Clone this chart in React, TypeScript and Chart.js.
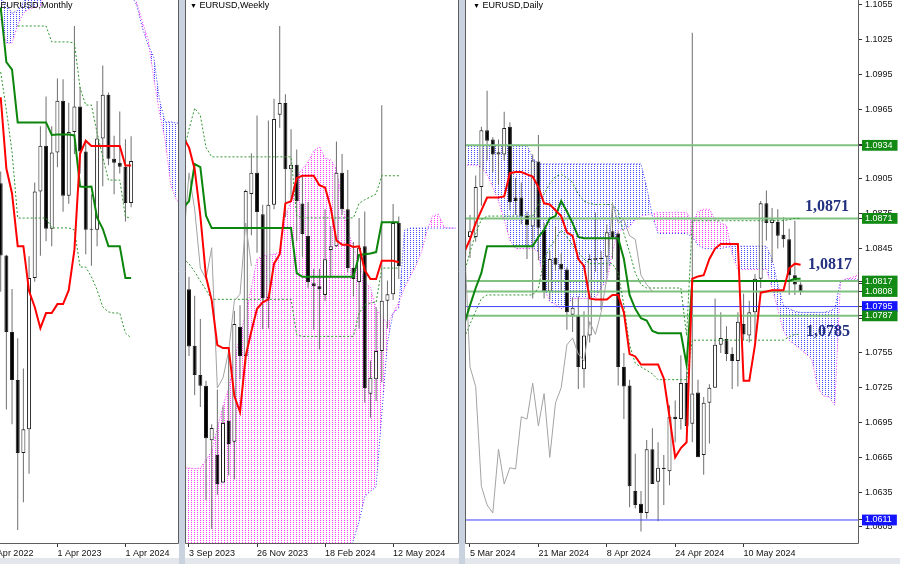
import React, { useEffect, useRef } from 'react';
import { Chart, registerables } from 'chart.js';
Chart.register(...registerables);

const FONT = "'Liberation Sans', 'DejaVu Sans', Arial, sans-serif";

// ---------------- Monthly (index 0 = Jun 2022 ... 23 = May 2024) ----------------
const mOpen = [1.0733, 1.0484, 1.0220, 1.0054, 0.9802, 0.9884, 1.0406, 1.0705, 1.0863, 1.0576, 1.0839, 1.1018, 1.0690, 1.0910, 1.0998, 1.0843, 1.0573, 1.0573, 1.0888, 1.1039, 1.0818, 1.0804, 1.0790, 1.0665];
const mHigh = [1.0774, 1.0486, 1.0368, 1.0198, 1.0094, 1.0481, 1.0736, 1.0930, 1.1033, 1.0930, 1.1095, 1.1092, 1.1011, 1.1276, 1.1065, 1.0882, 1.0695, 1.1017, 1.1140, 1.1046, 1.0897, 1.0981, 1.0885, 1.0895];
const mLow = [1.0359, 0.9952, 0.9901, 0.9536, 0.9632, 0.9730, 1.0393, 1.0483, 1.0533, 1.0516, 1.0788, 1.0635, 1.0662, 1.0834, 1.0766, 1.0488, 1.0448, 1.0516, 1.0723, 1.0795, 1.0695, 1.0767, 1.0601, 1.0650];
const mClose = [1.0484, 1.0220, 1.0054, 0.9802, 0.9884, 1.0406, 1.0705, 1.0863, 1.0576, 1.0839, 1.1018, 1.0690, 1.0910, 1.0998, 1.0843, 1.0573, 1.0573, 1.0888, 1.1039, 1.0818, 1.0804, 1.0790, 1.0665, 1.0810];
const mTenkan = [1.1030, 1.0784, 1.0698, 1.0516, 1.0516, 1.0361, 1.0306, 1.0233, 1.0285, 1.0285, 1.0316, 1.0316, 1.0364, 1.0503, 1.0835, 1.0880, 1.0862, 1.0862, 1.0862, 1.0862, 1.0862, 1.0862, 1.0794, 1.0794];
const mKijun = [1.1340, 1.1151, 1.1125, 1.0943, 1.0943, 1.0943, 1.0943, 1.0943, 1.0943, 1.0900, 1.0901, 1.0901, 1.0901, 1.0898, 1.0722, 1.0720, 1.0722, 1.0614, 1.0576, 1.0516, 1.0516, 1.0516, 1.0406, 1.0406];
const mDotUp = [null, null, null, 1.1276, 1.1276, 1.1276, 1.1276, 1.1276, 1.1276, 1.1221, 1.1221, 1.1221, 1.1221, 1.1217, 1.1062, 1.1003, 1.1003, 1.0907, 1.0824, 1.0744, 1.0744, 1.0744, 1.0617, 1.0613];
const mDotLo = [1.1117, 1.0986, 1.0841, 1.0613, 1.0613, 1.0613, 1.0613, 1.0613, 1.0613, 1.0579, 1.0579, 1.0579, 1.0579, 1.0572, 1.0444, 1.0444, 1.0410, 1.0365, 1.0306, 1.0289, 1.0285, 1.0285, 1.0216, 1.0199];
const mSpanBlue = [1.1370, 1.1350, 1.1320, 1.1330, 1.1360, 1.1380, 1.1400, 1.1420, 1.1480, 1.1480, 1.1480, 1.1480, 1.1480, 1.1480, 1.1480, 1.1480, 1.1480, 1.1480, 1.1480, 1.1480, 1.1480, 1.1480, 1.1480, 1.1383, 1.1348, 1.1269, 1.1210, 1.1169, 1.1021, 1.0945, 1.0945, 1.0941, 1.0941];
const mSpanMagenta = [1.1300, 1.1217, 1.1217, 1.1280, 1.1320, 1.1335, 1.1340, 1.1345, 1.1420, 1.1420, 1.1420, 1.1420, 1.1420, 1.1420, 1.1420, 1.1420, 1.1420, 1.1420, 1.1420, 1.1420, 1.1420, 1.1420, 1.1420, 1.1400, 1.1355, 1.1290, 1.1228, 1.1096, 1.0979, 1.0882, 1.0727, 1.0675, 1.0658];
const mTickAt = [-2, 10, 22];
const mTickText = ['1 Apr 2022', '1 Apr 2023', '1 Apr 2024'];

// ---------------- Weekly (index 0 = 27 Aug 2023 ... 38 = 19 May 2024) ----------------
const wOpen = [1.0796, 1.0778, 1.0700, 1.0660, 1.0645, 1.0570, 1.0550, 1.0512, 1.0597, 1.0568, 1.0726, 1.0686, 1.0909, 1.0938, 1.0881, 1.0766, 1.0894, 1.1018, 1.1034, 1.0943, 1.0949, 1.0896, 1.0851, 1.0786, 1.0782, 1.0770, 1.0832, 1.0837, 1.0938, 1.0888, 1.0807, 1.0788, 1.0837, 1.0634, 1.0654, 1.0693, 1.0762, 1.0771, 1.0869];
const wHigh = [1.0945, 1.0795, 1.0769, 1.0737, 1.0652, 1.0592, 1.0640, 1.0617, 1.0695, 1.0748, 1.0756, 1.0915, 1.0965, 1.1017, 1.0894, 1.1010, 1.1040, 1.1140, 1.1046, 1.0998, 1.0970, 1.0933, 1.0898, 1.0806, 1.0806, 1.0888, 1.0865, 1.0981, 1.0964, 1.0942, 1.0843, 1.0876, 1.0885, 1.0680, 1.0753, 1.1031, 1.0790, 1.0895, 1.0878];
const wLow = [1.0766, 1.0686, 1.0632, 1.0616, 1.0488, 1.0448, 1.0495, 1.0511, 1.0522, 1.0516, 1.0654, 1.0674, 1.0852, 1.0828, 1.0723, 1.0724, 1.0888, 1.1000, 1.0877, 1.0900, 1.0844, 1.0822, 1.0780, 1.0722, 1.0695, 1.0762, 1.0796, 1.0836, 1.0880, 1.0801, 1.0768, 1.0724, 1.0622, 1.0601, 1.0624, 1.0650, 1.0724, 1.0763, 1.0792];
const wClose = [1.0775, 1.0699, 1.0660, 1.0645, 1.0573, 1.0587, 1.0510, 1.0594, 1.0565, 1.0730, 1.0686, 1.0913, 1.0938, 1.0884, 1.0766, 1.0894, 1.1012, 1.1034, 1.0943, 1.0949, 1.0899, 1.0854, 1.0788, 1.0782, 1.0778, 1.0819, 1.0837, 1.0938, 1.0888, 1.0807, 1.0792, 1.0835, 1.0642, 1.0656, 1.0693, 1.0762, 1.0771, 1.0869, 1.0810];
const wTenkan = [1.0987, 1.0973, 1.0943, 1.0879, 1.0795, 1.0763, 1.0701, 1.0697, 1.0697, 1.0631, 1.0609, 1.0686, 1.0720, 1.0751, 1.0760, 1.0764, 1.0813, 1.0826, 1.0896, 1.0899, 1.0931, 1.0934, 1.0934, 1.0934, 1.0921, 1.0918, 1.0890, 1.0845, 1.0839, 1.0839, 1.0836, 1.0837, 1.0804, 1.0792, 1.0792, 1.0817, 1.0817, 1.0817, 1.0815];
const wKijun = [1.0890, 1.0899, 1.0950, 1.0946, 1.0879, 1.0862, 1.0862, 1.0862, 1.0862, 1.0862, 1.0862, 1.0862, 1.0862, 1.0862, 1.0862, 1.0862, 1.0862, 1.0862, 1.0862, 1.0862, 1.0800, 1.0795, 1.0795, 1.0795, 1.0795, 1.0795, 1.0795, 1.0795, 1.0795, 1.0795, 1.0795, 1.0825, 1.0826, 1.0827, 1.0829, 1.0870, 1.0870, 1.0870, 1.0870];
const wChikou = [1.0837, 1.0938, 1.0888, 1.0807, 1.0792, 1.0835, 1.0642, 1.0656, 1.0693, 1.0762, 1.0771, 1.0869, 1.0810];
const wDotUp = [1.0965, 1.0998, 1.1027, 1.1017, 1.0973, 1.0960, 1.0960, 1.0960, 1.0960, 1.0960, 1.0960, 1.0960, 1.0960, 1.0960, 1.0960, 1.0960, 1.0960, 1.0960, 1.0960, 1.0960, 1.0879, 1.0876, 1.0876, 1.0876, 1.0876, 1.0876, 1.0876, 1.0876, 1.0876, 1.0876, 1.0876, 1.0896, 1.0901, 1.0905, 1.0909, 1.0934, 1.0934, 1.0934, 1.0934];
const wDotLo = [1.0820, 1.0813, 1.0802, 1.0789, 1.0777, 1.0764, 1.0764, 1.0764, 1.0764, 1.0764, 1.0764, 1.0764, 1.0764, 1.0764, 1.0764, 1.0764, 1.0764, 1.0764, 1.0764, 1.0764, 1.0715, 1.0713, 1.0713, 1.0713, 1.0713, 1.0713, 1.0713, 1.0713, 1.0713, 1.0713, 1.0713, 1.0745, 1.0756, 1.0759, 1.0760, 1.0807, 1.0807, 1.0807, 1.0807];
const wSpanMagenta = [1.0532, 1.0532, 1.0531, 1.0532, 1.0543, 1.0555, 1.0587, 1.0617, 1.0642, 1.0681, 1.0714, 1.0745, 1.0780, 1.0819, 1.0824, 1.0825, 1.0826, 1.0829, 1.0879, 1.0899, 1.0934, 1.0943, 1.0953, 1.0968, 1.0974, 1.0958, 1.0956, 1.0943, 1.0899, 1.0859, 1.0835, 1.0814, 1.0788, 1.0780, 1.0751, 1.0740, 1.0730, 1.0745, 1.0760, 1.0780, 1.0795, 1.0810, 1.0829, 1.0859, 1.0879, 1.0881, 1.0863, 1.0862, 1.0862];
const wSpanBlue = [1.0316, 1.0316, 1.0316, 1.0316, 1.0316, 1.0316, 1.0316, 1.0316, 1.0316, 1.0316, 1.0316, 1.0316, 1.0316, 1.0316, 1.0316, 1.0316, 1.0316, 1.0316, 1.0316, 1.0316, 1.0316, 1.0316, 1.0316, 1.0316, 1.0316, 1.0316, 1.0360, 1.0380, 1.0400, 1.0415, 1.0433, 1.0458, 1.0493, 1.0500, 1.0506, 1.0606, 1.0705, 1.0745, 1.0752, 1.0859, 1.0862, 1.0862, 1.0862, 1.0862, 1.0862, 1.0862, 1.0862, 1.0862, 1.0862];
const wTickAt = [1, 13, 25, 37];
const wTickText = ['3 Sep 2023', '26 Nov 2023', '18 Feb 2024', '12 May 2024'];

// ---------------- Daily (index 0 = 4 Mar 2024 ... 59 = 24 May 2024) ----------------
const dOpen = [1.0838, 1.0855, 1.0855, 1.0898, 1.0947, 1.0939, 1.0926, 1.0926, 1.0950, 1.0889, 1.0889, 1.0873, 1.0864, 1.0920, 1.0861, 1.0808, 1.0837, 1.0832, 1.0827, 1.0788, 1.0788, 1.0741, 1.0770, 1.0835, 1.0837, 1.0838, 1.0860, 1.0858, 1.0743, 1.0727, 1.0636, 1.0625, 1.0617, 1.0672, 1.0644, 1.0656, 1.0653, 1.0700, 1.0698, 1.0729, 1.0694, 1.0721, 1.0667, 1.0712, 1.0725, 1.0762, 1.0767, 1.0754, 1.0748, 1.0780, 1.0770, 1.0790, 1.0819, 1.0884, 1.0867, 1.0868, 1.0857, 1.0853, 1.0822, 1.0814];
const dHigh = [1.0867, 1.0874, 1.0908, 1.0950, 1.0981, 1.0941, 1.0939, 1.0963, 1.0954, 1.0906, 1.0902, 1.0877, 1.0926, 1.0943, 1.0867, 1.0843, 1.0864, 1.0841, 1.0829, 1.0803, 1.0804, 1.0791, 1.0840, 1.0876, 1.0843, 1.0866, 1.0885, 1.0860, 1.0755, 1.0732, 1.0668, 1.0636, 1.0680, 1.0690, 1.0678, 1.0667, 1.0710, 1.0714, 1.0753, 1.0739, 1.1031, 1.0732, 1.0717, 1.0728, 1.0802, 1.0790, 1.0778, 1.0760, 1.0790, 1.0806, 1.0800, 1.0823, 1.0886, 1.0895, 1.0880, 1.0879, 1.0872, 1.0862, 1.0869, 1.0816];
const dLow = [1.0831, 1.0837, 1.0851, 1.0882, 1.0921, 1.0911, 1.0900, 1.0921, 1.0878, 1.0874, 1.0866, 1.0836, 1.0802, 1.0835, 1.0802, 1.0801, 1.0826, 1.0808, 1.0775, 1.0773, 1.0724, 1.0725, 1.0764, 1.0825, 1.0792, 1.0824, 1.0836, 1.0727, 1.0698, 1.0622, 1.0621, 1.0601, 1.0612, 1.0643, 1.0610, 1.0624, 1.0641, 1.0678, 1.0689, 1.0689, 1.0678, 1.0665, 1.0650, 1.0677, 1.0725, 1.0755, 1.0748, 1.0724, 1.0726, 1.0766, 1.0764, 1.0767, 1.0811, 1.0852, 1.0833, 1.0845, 1.0846, 1.0805, 1.0805, 1.0805];
const dClose = [1.0855, 1.0860, 1.0898, 1.0947, 1.0938, 1.0926, 1.0928, 1.0949, 1.0885, 1.0886, 1.0873, 1.0865, 1.0921, 1.0863, 1.0808, 1.0836, 1.0831, 1.0827, 1.0790, 1.0794, 1.0743, 1.0770, 1.0836, 1.0837, 1.0836, 1.0859, 1.0855, 1.0743, 1.0726, 1.0640, 1.0624, 1.0617, 1.0672, 1.0642, 1.0656, 1.0655, 1.0700, 1.0698, 1.0729, 1.0692, 1.0720, 1.0665, 1.0712, 1.0725, 1.0762, 1.0768, 1.0754, 1.0748, 1.0782, 1.0771, 1.0790, 1.0819, 1.0884, 1.0867, 1.0870, 1.0856, 1.0853, 1.0822, 1.0814, 1.0808];
const dTenkan = [1.0842, 1.0853, 1.0867, 1.0878, 1.0889, 1.0889, 1.0889, 1.0890, 1.0910, 1.0911, 1.0911, 1.0909, 1.0907, 1.0898, 1.0884, 1.0883, 1.0878, 1.0873, 1.0859, 1.0856, 1.0836, 1.0830, 1.0802, 1.0801, 1.0801, 1.0801, 1.0805, 1.0805, 1.0790, 1.0754, 1.0752, 1.0745, 1.0745, 1.0745, 1.0745, 1.0733, 1.0700, 1.0665, 1.0673, 1.0678, 1.0819, 1.0821, 1.0822, 1.0836, 1.0845, 1.0849, 1.0849, 1.0849, 1.0849, 1.0731, 1.0731, 1.0762, 1.0807, 1.0808, 1.0809, 1.0809, 1.0809, 1.0828, 1.0832, 1.0831];
const dKijun = [1.0780, 1.0796, 1.0811, 1.0824, 1.0847, 1.0847, 1.0847, 1.0847, 1.0847, 1.0847, 1.0847, 1.0847, 1.0847, 1.0855, 1.0861, 1.0871, 1.0873, 1.0886, 1.0877, 1.0867, 1.0855, 1.0854, 1.0854, 1.0854, 1.0854, 1.0854, 1.0854, 1.0854, 1.0836, 1.0805, 1.0793, 1.0785, 1.0783, 1.0774, 1.0772, 1.0772, 1.0772, 1.0772, 1.0772, 1.0745, 1.0817, 1.0817, 1.0817, 1.0817, 1.0817, 1.0817, 1.0817, 1.0817, 1.0817, 1.0817, 1.0817, 1.0817, 1.0817, 1.0817, 1.0817, 1.0817, 1.0817, 1.0817, 1.0819, 1.0819];
const dChikou = [1.0855, 1.0743, 1.0726, 1.0640, 1.0624, 1.0617, 1.0672, 1.0642, 1.0656, 1.0655, 1.0700, 1.0698, 1.0729, 1.0692, 1.0720, 1.0665, 1.0712, 1.0725, 1.0762, 1.0768, 1.0754, 1.0748, 1.0782, 1.0771, 1.0790, 1.0819, 1.0884, 1.0867, 1.0870, 1.0856, 1.0853, 1.0822, 1.0814, 1.0808];
const dDotUp = [1.0824, 1.0842, 1.0858, 1.0870, 1.0873, 1.0873, 1.0873, 1.0873, 1.0873, 1.0873, 1.0873, 1.0873, 1.0873, 1.0883, 1.0892, 1.0901, 1.0907, 1.0909, 1.0906, 1.0902, 1.0892, 1.0886, 1.0884, 1.0883, 1.0883, 1.0883, 1.0883, 1.0877, 1.0858, 1.0842, 1.0824, 1.0814, 1.0811, 1.0811, 1.0811, 1.0811, 1.0811, 1.0811, 1.0811, 1.0770, 1.0869, 1.0869, 1.0869, 1.0869, 1.0869, 1.0869, 1.0869, 1.0869, 1.0869, 1.0869, 1.0869, 1.0869, 1.0869, 1.0869, 1.0869, 1.0869, 1.0869, 1.0870, 1.0871, 1.0871];
const dDotLo = [1.0768, 1.0780, 1.0791, 1.0802, 1.0805, 1.0805, 1.0805, 1.0805, 1.0805, 1.0805, 1.0805, 1.0805, 1.0805, 1.0811, 1.0836, 1.0846, 1.0853, 1.0861, 1.0855, 1.0848, 1.0842, 1.0836, 1.0832, 1.0832, 1.0832, 1.0832, 1.0832, 1.0824, 1.0796, 1.0762, 1.0746, 1.0743, 1.0740, 1.0737, 1.0732, 1.0732, 1.0732, 1.0732, 1.0732, 1.0732, 1.0766, 1.0766, 1.0766, 1.0766, 1.0766, 1.0766, 1.0766, 1.0766, 1.0766, 1.0766, 1.0766, 1.0766, 1.0766, 1.0766, 1.0766, 1.0766, 1.0766, 1.0769, 1.0771, 1.0771];
const dSpanBlue = [1.0934, 1.0934, 1.0934, 1.0934, 1.0934, 1.0934, 1.0934, 1.0934, 1.0934, 1.0934, 1.0934, 1.0934, 1.0923, 1.0918, 1.0918, 1.0918, 1.0918, 1.0918, 1.0918, 1.0918, 1.0918, 1.0918, 1.0918, 1.0918, 1.0918, 1.0918, 1.0918, 1.0918, 1.0918, 1.0918, 1.0918, 1.0918, 1.0898, 1.0873, 1.0858, 1.0858, 1.0858, 1.0858, 1.0858, 1.0858, 1.0855, 1.0848, 1.0845, 1.0845, 1.0845, 1.0845, 1.0846, 1.0847, 1.0847, 1.0847, 1.0847, 1.0847, 1.0847, 1.0847, 1.0836, 1.0814, 1.0796, 1.0793, 1.0791, 1.0790, 1.0790, 1.0790, 1.0790, 1.0790, 1.0791, 1.0793, 1.0817, 1.0818, 1.0818, 1.0818, 1.0818];
const dSpanMagenta = [1.0917, 1.0917, 1.0917, 1.0915, 1.0909, 1.0898, 1.0886, 1.0870, 1.0852, 1.0845, 1.0845, 1.0845, 1.0845, 1.0842, 1.0811, 1.0799, 1.0797, 1.0793, 1.0796, 1.0802, 1.0802, 1.0802, 1.0802, 1.0802, 1.0811, 1.0817, 1.0842, 1.0861, 1.0861, 1.0864, 1.0870, 1.0873, 1.0874, 1.0875, 1.0876, 1.0876, 1.0876, 1.0876, 1.0876, 1.0876, 1.0867, 1.0877, 1.0879, 1.0879, 1.0870, 1.0867, 1.0865, 1.0840, 1.0827, 1.0827, 1.0827, 1.0827, 1.0827, 1.0827, 1.0811, 1.0793, 1.0774, 1.0766, 1.0762, 1.0758, 1.0754, 1.0749, 1.0725, 1.0718, 1.0717, 1.0710, 1.0817, 1.0819, 1.0820, 1.0822, 1.0822];
const dTickAt = [1, 13, 25, 37, 49];
const dTickText = ['5 Mar 2024', '21 Mar 2024', '8 Apr 2024', '24 Apr 2024', '10 May 2024'];
const dPriceTicks = [1.1055, 1.1025, 1.0995, 1.0965, 1.0935, 1.0905, 1.0875, 1.0845, 1.0815, 1.0785, 1.0755, 1.0725, 1.0695, 1.0665, 1.0635, 1.0605];
const dLevels = [1.0934, 1.0871, 1.0817, 1.0808, 1.0795, 1.0787, 1.0611];
const dLevelKind = ['green', 'green', 'green', 'green', 'blue', 'green', 'blue'];
const dNotes = ['1,0871', '1,0817', '1,0785'];

// ---------------- drawing ----------------
const LEVEL_LINE: Record<string, string> = { green: '#7fc17f', blue: '#3f3fff' };
const LEVEL_LABEL: Record<string, string> = { green: '#138a13', blue: '#1414ff' };

function hatch(color: string): CanvasPattern | string {
  const c = document.createElement('canvas');
  c.width = 3;
  c.height = 2;
  const g = c.getContext('2d');
  if (!g) return color;
  g.fillStyle = color;
  g.fillRect(0, 0, 1, 1);
  return g.createPattern(c, 'repeat') || color;
}

const framePlugin = {
  id: 'mtFrame',
  afterDraw(chart: any) {
    const { ctx, chartArea: a } = chart;
    ctx.save();
    ctx.strokeStyle = '#5e5e5e';
    ctx.lineWidth = 1;
    ctx.beginPath();
    ctx.moveTo(a.left + 0.5, a.top);
    ctx.lineTo(a.left + 0.5, a.bottom - 0.5);
    ctx.lineTo(a.right - 0.5, a.bottom - 0.5);
    ctx.lineTo(a.right - 0.5, a.top);
    ctx.stroke();
    ctx.restore();
  },
};

type Spec = {
  xMin: number; xMax: number; yMin: number; yMax: number;
  open: number[]; high: number[]; low: number[]; close: number[];
  tenkan: number[]; kijun: number[]; chikou: number[] | null;
  dotUp: (number | null)[]; dotLo: number[];
  spanBlue: number[]; spanMagenta: number[];
  tickAt: number[]; tickText: string[];
  priceAxis: boolean;
};

const xy = (arr: (number | null)[]) => arr.map((v, i) => ({ x: i, y: v }));

function makeChart(canvas: HTMLCanvasElement, s: Spec) {
  const line = (data: any, color: string, width: number, order: number, dash: number[] = []) => ({
    type: 'line', data, borderColor: color, borderWidth: width, borderDash: dash,
    pointRadius: 0, tension: 0, fill: false, order, spanGaps: false,
  });
  const datasets: any[] = [];
  datasets.push(line(xy(s.tenkan), '#ff0000', 2, 0));
  datasets.push(line(xy(s.kijun), '#0b850b', 2, 0));
  if (s.chikou) datasets.push(line(xy(s.chikou), '#a3a3a3', 1, 1));
  datasets.push(line(xy(s.dotUp), '#2f962f', 1, 1, [2, 2]));
  datasets.push(line(xy(s.dotLo), '#2f962f', 1, 1, [2, 2]));
  if (s.priceAxis) {
    dLevels.forEach((v, i) => {
      const kind = dLevelKind[i];
      datasets.push(line([{ x: s.xMin, y: v }, { x: s.xMax, y: v }], LEVEL_LINE[kind], kind === 'green' ? 2 : 1, 2));
    });
  }
  datasets.push({
    type: 'bar',
    data: s.open.map((o, i) => ({ x: i, y: [o, s.close[i]] })),
    barThickness: 4, grouped: false, minBarLength: 1, inflateAmount: 0,
    borderSkipped: false, borderWidth: 1, borderColor: '#1e1e1e',
    backgroundColor: (c: any) => (s.close[c.dataIndex] >= s.open[c.dataIndex] ? '#ffffff' : '#000000'),
    order: 3,
  });
  datasets.push({
    type: 'bar',
    data: s.low.map((l, i) => ({ x: i, y: [l, s.high[i]] })),
    barThickness: 1, grouped: false, inflateAmount: 0, borderWidth: 0,
    backgroundColor: '#6e6e6e', order: 4,
  });
  const magIndex = datasets.length + 1;
  datasets.push({
    ...line(xy(s.spanBlue), '#3434ff', 1, 8, [1, 2]),
    fill: { target: magIndex, above: hatch('#4a4aff'), below: hatch('#ff3cff') },
  });
  datasets.push(line(xy(s.spanMagenta), '#ff2cff', 1, 9, [1, 2]));

  const tickFont = { family: FONT, size: 9 };
  const levelSet = new Map(dLevels.map((v, i) => [v, dLevelKind[i]]));

  const scales: any = {
    x: {
      type: 'linear', min: s.xMin, max: s.xMax, offset: false, bounds: 'data',
      grid: { display: true, drawOnChartArea: false, drawTicks: true, tickLength: 3, tickColor: '#333', color: '#333', offset: false },
      border: { display: false },
      ticks: {
        align: 'start', padding: 1, maxRotation: 0, autoSkip: false, font: tickFont, color: '#111',
        callback: (v: number) => {
          const k = s.tickAt.indexOf(v);
          return k >= 0 ? s.tickText[k] : '';
        },
      },
      afterBuildTicks: (sc: any) => { sc.ticks = s.tickAt.map((v) => ({ value: v })); },
      afterFit: (sc: any) => { sc.height = 14; sc.paddingLeft = 0; sc.paddingRight = 0; },
    },
    y: {
      type: 'linear', min: s.yMin, max: s.yMax, bounds: 'data', display: s.priceAxis, position: 'right',
      grid: { display: true, drawOnChartArea: false, drawTicks: true, tickLength: 3, tickColor: '#333', color: '#333' },
      border: { display: false },
      ticks: {
        autoSkip: false, font: tickFont, padding: 3,
        color: (c: any) => (levelSet.has(c.tick && c.tick.value) ? '#ffffff' : '#111'),
        showLabelBackdrop: (c: any) => levelSet.has(c.tick && c.tick.value),
        backdropColor: (c: any) => LEVEL_LABEL[levelSet.get(c.tick && c.tick.value) || 'green'],
        backdropPadding: { top: 0, bottom: 0, left: 3, right: 5 },
        callback: (v: number) => v.toFixed(4),
      },
      afterBuildTicks: (sc: any) => { sc.ticks = [...dPriceTicks, ...dLevels].map((v) => ({ value: v })); },
      afterFit: (sc: any) => {
        sc.width = s.priceAxis ? 41 : 0;
        sc.paddingTop = 0;
        sc.paddingBottom = 0;
      },
    },
  };

  return new Chart(canvas, {
    type: 'bar',
    data: { datasets },
    options: {
      responsive: false, animation: false, devicePixelRatio: 1, events: [],
      layout: { padding: 0 },
      plugins: { legend: { display: false }, tooltip: { enabled: false }, title: { display: false } },
      scales,
    } as any,
    plugins: [framePlugin],
  } as any);
}

const monthly: Spec = {
  xMin: -3.651, xMax: 31.446, yMin: 0.94879, yMax: 1.13657,
  open: mOpen, high: mHigh, low: mLow, close: mClose, tenkan: mTenkan, kijun: mKijun, chikou: null,
  dotUp: mDotUp, dotLo: mDotLo, spanBlue: mSpanBlue, spanMagenta: mSpanMagenta,
  tickAt: mTickAt, tickText: mTickText, priceAxis: false,
};
const weekly: Spec = {
  xMin: 0.295, xMax: 48.62, yMin: 1.04274, yMax: 1.11758,
  open: wOpen, high: wHigh, low: wLow, close: wClose, tenkan: wTenkan, kijun: wKijun, chikou: wChikou,
  dotUp: wDotUp, dotLo: wDotLo, spanBlue: wSpanBlue, spanMagenta: wSpanMagenta,
  tickAt: wTickAt, tickText: wTickText, priceAxis: false,
};
const daily: Spec = {
  xMin: 0.123, xMax: 69.25, yMin: 1.05903, yMax: 1.10593,
  open: dOpen, high: dHigh, low: dLow, close: dClose, tenkan: dTenkan, kijun: dKijun, chikou: dChikou,
  dotUp: dDotUp, dotLo: dDotLo, spanBlue: dSpanBlue, spanMagenta: dSpanMagenta,
  tickAt: dTickAt, tickText: dTickText, priceAxis: true,
};

const titleStyle: React.CSSProperties = {
  position: 'absolute', top: 0, fontSize: 9, lineHeight: '11px', color: '#000', fontFamily: FONT, whiteSpace: 'nowrap',
};
const noteStyle: React.CSSProperties = {
  position: 'absolute', fontFamily: "'Liberation Serif', 'DejaVu Serif', serif", fontWeight: 700,
  fontSize: 16, lineHeight: '16px', color: '#23317f', whiteSpace: 'nowrap',
};

export default function App() {
  const mRef = useRef<HTMLCanvasElement>(null);
  const wRef = useRef<HTMLCanvasElement>(null);
  const dRef = useRef<HTMLCanvasElement>(null);

  useEffect(() => {
    Chart.defaults.font.family = FONT;
    const charts = [
      makeChart(mRef.current as HTMLCanvasElement, monthly),
      makeChart(wRef.current as HTMLCanvasElement, weekly),
      makeChart(dRef.current as HTMLCanvasElement, daily),
    ];
    return () => charts.forEach((c) => c.destroy());
  }, []);

  const cv = (left: number, width: number): React.CSSProperties => ({
    position: 'absolute', left, top: 0, width, height: 558, background: '#ffffff', display: 'block',
  });

  return (
    <div style={{ position: 'fixed', left: 0, top: 0, width: 900, height: 564, overflow: 'hidden', background: '#e3e6ea' }}>
      <div style={{ position: 'absolute', left: 179, top: 0, width: 6, height: 564, background: '#c8d3df' }} />
      <div style={{ position: 'absolute', left: 459, top: 0, width: 6, height: 564, background: '#c8d3df' }} />
      <canvas ref={mRef} width={199} height={558} style={cv(-20, 199)} />
      <canvas ref={wRef} width={274} height={558} style={cv(185, 274)} />
      <canvas ref={dRef} width={435} height={558} style={cv(465, 435)} />
      <div style={{ ...titleStyle, left: -9 }}><span style={{ fontSize: 7 }}>▼</span> EURUSD,Monthly</div>
      <div style={{ ...titleStyle, left: 190 }}><span style={{ fontSize: 7 }}>▼</span> EURUSD,Weekly</div>
      <div style={{ ...titleStyle, left: 473 }}><span style={{ fontSize: 7 }}>▼</span> EURUSD,Daily</div>
      <div style={{ ...noteStyle, left: 805, top: 198 }}>{dNotes[0]}</div>
      <div style={{ ...noteStyle, left: 808, top: 256 }}>{dNotes[1]}</div>
      <div style={{ ...noteStyle, left: 806, top: 323 }}>{dNotes[2]}</div>
    </div>
  );
}
